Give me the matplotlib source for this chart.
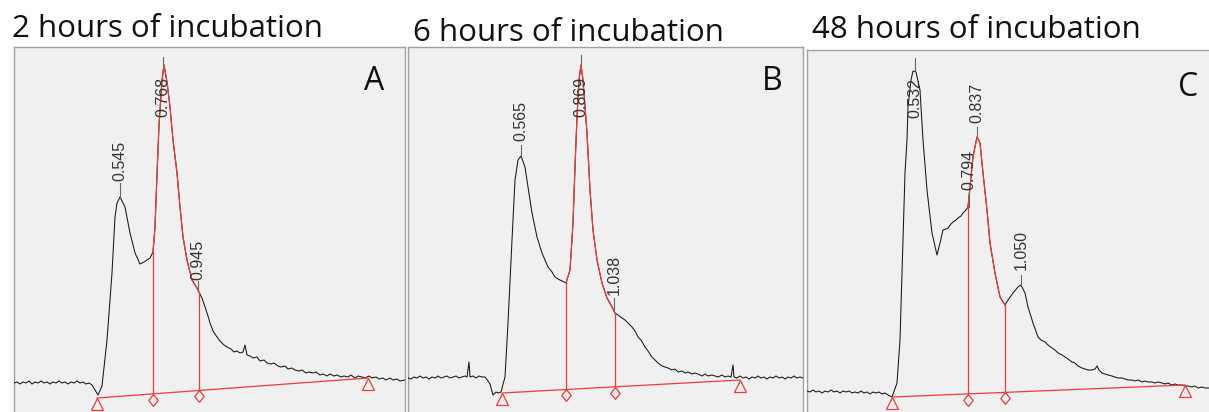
import matplotlib
matplotlib.use('Agg')
import matplotlib.pyplot as plt
import numpy as np
from matplotlib.path import Path

# ---------------- data (image-pixel coordinates) ----------------
titles = ["2 hours of incubation", "6 hours of incubation", "48 hours of incubation"]
panel_letters = ["A", "B", "C"]

trace_A = [(14,383),(17,382),(20,384),(23,382),(26,383),(29,381),(32,384),(35,382),(38,383),(41,381),
           (44,383),(47,382),(50,384),(53,382),(56,383),(59,381),(62,383),(65,382),(68,384),(71,382),
           (74,383),(77,381),(80,383),(83,382),(86,384),(89,383),(92,385),(95,390),(98,395),
           (102,386),(107,340),(112,273),(115,217),(117,203),(120,197),(125,207),(130,233),(135,253),
           (140,264),(144,262),(147,260),(150,258),(153,252),
           (155,227),(157,175),(159,125),(162,80),(164,65),(167,82),(170,107),(173,140),(177,173),
           (180,207),(183,237),(187,260),(192,280),(197,288),(199,292),
           (202,298),(205,307),(208,316),(210,323),(213,331),(217,337),(220,341),(224,345),(227,347),
           (231,349),(234,352),(237,351),(240,353),(243,352),(245,345),(247,355),(250,356),(253,358),
           (257,357),(260,361),(264,360),(267,363),(271,364),(274,363),(278,366),(281,367),(285,366),
           (288,369),(292,368),(295,370),(299,371),(302,370),(306,373),(309,372),(313,373),(316,372),
           (320,375),(323,374),(327,376),(330,374),(334,376),(337,375),(341,377),(344,376),(348,377),
           (351,375),(355,378),(358,376),(362,377),(365,378),(369,376),(372,378),(376,377),(379,379),
           (383,378),(386,380),(390,378),(393,380),(397,379),(400,381),(405,380)]

trace_B = [(408,378),(411,379),(414,377),(417,378),(420,376),(423,378),(426,377),(429,379),(432,377),
           (435,378),(438,376),(441,378),(444,377),(447,376),(450,378),(453,377),(456,376),(459,378),
           (462,377),(465,376),(467,377),(469,362),(470,377),(473,376),(476,378),(479,376),(482,377),
           (485,377),(488,381),(490,384),(493,395),(496,392),(498,393),(501,392),
           (505,377),(508,323),(512,240),(515,180),(518,160),(521,156),
           (525,167),(528,187),(532,213),(537,237),(542,253),(545,260),(548,267),(552,272),(555,277),
           (558,279),(562,281),(566,283),
           (570,270),(573,223),(575,167),(577,117),(579,80),(581,65),(583,80),(587,133),(590,190),
           (593,230),(597,260),(602,283),(607,298),(612,307),(615,313),
           (618,315),(622,318),(625,320),(628,323),(632,327),(635,331),(638,337),(641,340),(645,347),
           (648,351),(652,357),(655,360),(658,363),(662,366),(665,367),(668,368),(672,370),(675,369),
           (678,372),(682,371),(685,373),(688,372),(692,374),(695,373),(698,374),(702,376),(705,374),
           (708,376),(712,375),(715,376),(718,377),(722,375),(725,377),(728,376),(731,377),(733,365),
           (734,377),(737,378),(740,376),(743,378),(746,377),(749,379),(752,377),(755,378),(758,376),
           (761,378),(764,377),(767,379),(770,377),(773,378),(776,376),(779,378),(782,377),(785,379),
           (788,377),(791,378),(794,376),(797,378),(800,377),(803,378)]

trace_C = [(807,391),(810,392),(813,390),(816,392),(819,391),(822,393),(825,391),(828,392),(831,390),
           (834,392),(837,391),(840,393),(843,391),(846,392),(849,391),(852,393),(855,392),(858,393),
           (861,391),(864,393),(867,392),(870,394),(873,392),(876,393),(879,392),(882,394),(885,393),
           (888,395),(892,397),
           (897,383),(900,340),(902,273),(905,173),(907,140),(908,107),(911,80),(913,71),(916,72),
           (920,90),(923,140),(927,190),(932,233),(937,255),(940,243),(943,230),(946,229),(948,228),
           (951,224),(953,222),(956,220),(958,218),(961,216),(963,213),(966,210),(968,207),
           (970,187),(973,157),(977,137),(980,143),(983,173),(987,210),(990,243),(995,273),(1000,297),
           (1005,305),
           (1008,300),(1013,293),(1018,287),(1021,285),(1025,293),(1028,307),(1033,323),(1038,337),
           (1041,340),(1045,342),(1048,345),(1052,348),(1055,350),(1058,353),(1062,355),(1065,357),
           (1068,359),(1072,362),(1075,363),(1078,366),(1082,368),(1085,369),(1088,370),(1092,370),
           (1095,369),(1097,366),(1099,370),(1102,373),(1105,374),(1108,375),(1112,376),(1115,377),
           (1118,378),(1122,378),(1125,379),(1128,380),(1132,380),(1135,381),(1138,380),(1142,382),
           (1145,381),(1148,382),(1152,382),(1155,383),(1158,382),(1162,383),(1165,384),(1168,383),
           (1172,385),(1175,384),(1178,385),(1182,385),(1185,386),(1188,386),(1192,387),(1195,386),
           (1198,388),(1202,387),(1205,388),(1209,388)]

# red integration baseline end points (triangles)
baseline_A = [(97,398),(368,378)]
baseline_B = [(502,393),(740,380)]
baseline_C = [(892,397),(1185,385)]

# red cut lines: x, y on trace, y on baseline (diamonds)
cuts_A = [(153,252,394),(199,292,390.5)]
cuts_B = [(566,283,389.5),(615,313,387)]
cuts_C = [(968,207,394),(1005,305,392.5)]

# peak labels: text, x, peak y, tick top y, label bottom y
peaks_A = [("0.545",120,197,183,181),("0.768",163,65,57,117),("0.945",198,290,281,280)]
peaks_B = [("0.565",521,156,145,141),("0.869",581,65,55,117),("1.038",614,312,298,295)]
peaks_C = [("0.532",915,70,58,118),("0.794",969,207,192,190),("0.837",977,137,127,123),
           ("1.050",1021,285,275,270)]

# panel boxes: left, top, right ; title position ; letter position
boxes = [(14,47,405),(408,47,803),(807,50,1212)]
title_pos = [(12,37),(413,41),(812,38)]
letter_pos = [(374,82),(772,82),(1188,87)]

traces = [trace_A, trace_B, trace_C]
baselines = [baseline_A, baseline_B, baseline_C]
cuts = [cuts_A, cuts_B, cuts_C]
peaks = [peaks_A, peaks_B, peaks_C]

# ---------------- drawing ----------------
W, H = 1209, 412
fig = plt.figure(figsize=(W/100, H/100), dpi=100)
fig.patch.set_facecolor('white')

RED = '#f23a3a'
BLACK = '#161616'
diamond = Path([(0,1),(0.8,0),(0,-1),(-0.8,0),(0,1)],
               [Path.MOVETO, Path.LINETO, Path.LINETO, Path.LINETO, Path.CLOSEPOLY])

for i in range(3):
    l, t, r = boxes[i]
    ax = fig.add_axes([l/W, 0, (r-l)/W, (H-t)/H])
    ax.set_xlim(l, r)
    ax.set_ylim(H, t)
    ax.set_facecolor('#f0f0f0')
    for s in ['left', 'top', 'right']:
        ax.spines[s].set_color('#a0a0a0')
        ax.spines[s].set_linewidth(1.0)
    ax.spines['bottom'].set_visible(False)
    ax.set_xticks([]); ax.set_yticks([])

    tx = np.array([p[0] for p in traces[i]], float)
    ty = np.array([p[1] for p in traces[i]], float)
    x1, x2 = cuts[i][0][0], cuts[i][1][0]
    ax.plot(tx, ty, color=BLACK, lw=0.75, zorder=3)
    m = (tx >= x1) & (tx <= x2)
    ax.plot(tx[m], ty[m], color=RED, lw=0.9, zorder=4)

    # baseline
    bx = [p[0] for p in baselines[i]]
    by = [p[1] for p in baselines[i]]
    ax.plot(bx, by, color=RED, lw=0.9, zorder=4)
    ax.plot(bx, [y + 5.5 for y in by], ls='none', marker='^', ms=8.5, mfc='none',
            mec=RED, mew=0.9, zorder=5, clip_on=False)
    for (cx, cy_trace, cy_base) in cuts[i]:
        ax.plot([cx, cx], [cy_trace, cy_base], color=RED, lw=0.9, zorder=4)
        ax.plot([cx], [cy_base + 5.5], ls='none', marker=diamond, ms=8.5, mfc='none',
                mec=RED, mew=0.9, zorder=5)

    for (lab, px, py, ptop, lbot) in peaks[i]:
        ax.plot([px, px], [py, ptop], color='#666666', lw=0.8, zorder=5)
        ax.text(px, lbot, lab, rotation=90, ha='center', va='bottom',
                fontsize=11.5, family='Liberation Sans', color='#333333', zorder=6)

    lx, ly = letter_pos[i]
    ax.text(lx, ly, panel_letters[i], ha='center', va='center', fontsize=23,
            family='Open Sans', color='#111111', zorder=6)

    ttx, tty = title_pos[i]
    fig.text(ttx/W, 1 - tty/H, titles[i], ha='left', va='baseline', fontsize=22.5,
             family='Open Sans', color='#111111')

fig.savefig('out.png', dpi=100, facecolor='white')
